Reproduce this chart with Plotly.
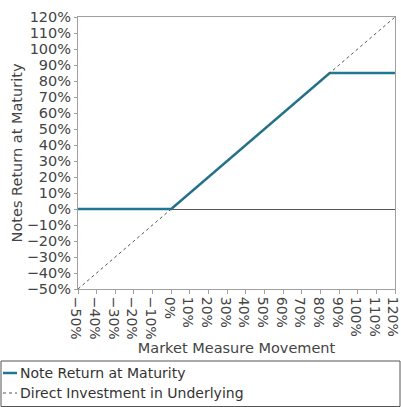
import plotly.graph_objects as go

# Data
note_x = [-50, 0, 85, 120]
note_y = [0, 0, 85, 85]
direct_x = [-50, 120]
direct_y = [-50, 120]
tick_vals = list(range(-50, 121, 10))
tick_text = [("\u2212" if v < 0 else "") + f"{abs(v)}%" for v in tick_vals]
series_names = ["Note Return at Maturity", "Direct Investment in Underlying"]

FONT = "DejaVu Sans"
TXT = "#444444"
NOTE_COLOR = "#1f7891"
DIRECT_COLOR = "#555555"

fig = go.Figure()
fig.add_trace(go.Scatter(x=note_x, y=note_y, mode="lines", name=series_names[0],
                         line=dict(color=NOTE_COLOR, width=2.5), showlegend=False))
fig.add_trace(go.Scatter(x=direct_x, y=direct_y, mode="lines", name=series_names[1],
                         line=dict(color=DIRECT_COLOR, width=1, dash="dot"), showlegend=False))

axis_common = dict(
    tickvals=tick_vals, ticktext=tick_text, range=[-50, 120], automargin=False,
    showgrid=False, showline=True, linecolor="#a0a0a0", linewidth=1, mirror=True,
    ticks="outside", tickcolor="#a0a0a0", ticklabeloverflow="allow",
)
fig.update_xaxes(**axis_common, ticklen=4, zeroline=False, tickangle=90, ticklabelshift=-2,
                 tickfont=dict(family=FONT, size=14, color=TXT),
                 title=dict(text="Market Measure Movement", font=dict(family=FONT, size=14.5, color=TXT), standoff=0))
fig.update_yaxes(**axis_common, ticklen=3, zeroline=True, zerolinecolor="#555555", zerolinewidth=1,
                 tickfont=dict(family=FONT, size=14.5, color=TXT),
                 title=dict(text="Notes Return at Maturity", font=dict(family=FONT, size=14.5, color=TXT), standoff=0))

L, R, T, B = 78, 6, 17, 118
W, H = 401, 407
pw, ph = W - L - R, H - T - B

def px_x(p):
    return (p - L) / pw

def px_y(p):
    return (H - B - p) / ph

# legend box
fig.add_shape(type="rect", xref="paper", yref="paper",
              x0=px_x(1), x1=px_x(400), y0=px_y(361), y1=px_y(406.5),
              line=dict(color="#555555", width=1), fillcolor="rgba(0,0,0,0)")
# legend entries
legend_styles = [dict(color=NOTE_COLOR, width=2.5), dict(color=DIRECT_COLOR, width=1, dash="dot")]
for i, (name, st) in enumerate(zip(series_names, legend_styles)):
    yc = 373 + 20 * i
    fig.add_shape(type="line", xref="paper", yref="paper",
                  x0=px_x(3), x1=px_x(17), y0=px_y(yc), y1=px_y(yc), line=st)
    fig.add_annotation(xref="paper", yref="paper", x=px_x(17.5), y=px_y(yc),
                       xanchor="left", yanchor="middle", showarrow=False, text=name,
                       font=dict(family=FONT, size=14, color="#333333"))

fig.update_layout(
    template="none",
    width=W, height=H, autosize=False,
    margin=dict(l=L, r=R, t=T, b=B),
    paper_bgcolor="white", plot_bgcolor="white",
    font=dict(family=FONT, size=14, color=TXT),
    showlegend=False,
)

fig.write_html("out.html", config={"displayModeBar": False},
               post_script="document.body.style.margin='0';")
